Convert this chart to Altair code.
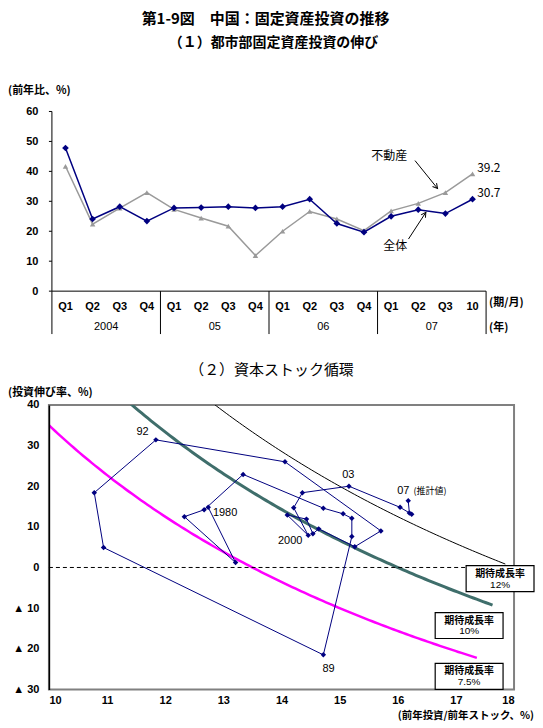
import altair as alt
import numpy as np
import pandas as pd

JP = "Noto Sans CJK JP"
AR = "Liberation Sans"
NAVY = "#000080"
GRAY = "#9a9a9a"

# ---------------- Panel (1) data ----------------
period_labels = ["Q1", "Q2", "Q3", "Q4", "Q1", "Q2", "Q3", "Q4",
                 "Q1", "Q2", "Q3", "Q4", "Q1", "Q2", "Q3", "10"]
year_labels = ["2004", "05", "06", "07"]
total_growth = [47.8, 24.1, 28.2, 23.4, 27.8, 27.9, 28.2, 27.8,
                28.2, 30.7, 22.6, 19.7, 25.0, 27.2, 25.9, 30.7]
realestate_growth = [41.7, 22.4, 27.7, 32.9, 27.3, 24.4, 21.7, 11.9,
                     20.0, 26.6, 24.1, 20.2, 26.8, 29.3, 32.9, 39.2]
p1_y_ticks = [0, 10, 20, 30, 40, 50, 60]

# ---------------- Panel (2) data ----------------
cycle_years = list(range(1980, 2008))
stock_ratio = [12.74, 13.21, 12.33, 12.67, 13.34, 14.72, 15.06, 15.21, 15.21, 14.72,
               10.94, 10.78, 11.84, 14.06, 15.71, 15.26, 14.64, 14.54, 14.43, 14.10,
               14.46, 14.21, 14.36, 15.16, 16.04, 16.24, 16.20, 16.18]
invest_growth = [14.8, 1.2, 12.5, 14.2, 22.9, 14.6, 13.2, 12.1, 7.6, -21.5,
                 4.9, 18.4, 31.4, 26.0, 9.0, 5.1, 9.5, 8.3, 11.9, 12.9,
                 7.9, 14.7, 18.4, 20.0, 14.8, 13.1, 13.4, 16.4]
growth_rates = [12, 10, 7.5]
growth_labels = ["12%", "10%", "7.5%"]
depreciation = 6.0
curve_end = [17.85, 17.63, 17.36]
p2_x_ticks = list(range(10, 19))
p2_y_ticks = list(range(-30, 41, 10))

# ---------------- Panel (1) chart ----------------
W1, H1 = 438, 180
n = len(period_labels)
D1 = 3 / ((W1 - 3) / n)
xs1 = alt.Scale(domain=[-D1, n], nice=False, zero=False)
ys1 = alt.Scale(domain=[0, 60], nice=False, zero=False)

df1 = pd.DataFrame({"pos": [i + 0.5 for i in range(n)], "period": period_labels,
                    "total": total_growth, "realestate": realestate_growth})

y_axis1 = alt.Axis(values=p1_y_ticks, domain=False, ticks=False, tickSize=0, grid=False,
                   labelPadding=11, labelFont=AR, labelFontSize=11, labelFontWeight="bold",
                   labelColor="black", title=None)


def X1(f):
    return alt.X(f, scale=xs1, axis=None)


def Y1(f):
    return alt.Y(f, scale=ys1, axis=y_axis1)


re_line = alt.Chart(df1).mark_line(color=GRAY, strokeWidth=1.5).encode(
    x=X1("pos:Q"), y=Y1("realestate:Q"))
re_pts = alt.Chart(df1).mark_point(shape="triangle-up", filled=True, color=GRAY, size=30, opacity=1).encode(
    x=X1("pos:Q"), y=Y1("realestate:Q"))
tot_line = alt.Chart(df1).mark_line(color=NAVY, strokeWidth=1.5).encode(
    x=X1("pos:Q"), y=Y1("total:Q"))
tot_pts = alt.Chart(df1).mark_point(shape="diamond", filled=True, color=NAVY, size=45, opacity=1).encode(
    x=X1("pos:Q"), y=Y1("total:Q"))

df_ax1 = pd.DataFrame({"x0": [0.0], "x1": [float(n)], "y0": [0.0], "y1": [60.0]})
xline1 = alt.Chart(df_ax1).mark_rule(color="black", strokeWidth=1).encode(
    x=X1("x0:Q"), x2="x1:Q", y=Y1("y0:Q"))
yline1 = alt.Chart(df_ax1).mark_rule(color="black", strokeWidth=1).encode(
    x=X1("x0:Q"), y=Y1("y0:Q"), y2="y1:Q")
df_tk1 = pd.DataFrame({"v": p1_y_ticks, "a": [-D1] * len(p1_y_ticks), "b": [0.0] * len(p1_y_ticks)})
ticks1 = alt.Chart(df_tk1).mark_rule(color="black", strokeWidth=1).encode(
    x=X1("a:Q"), x2="b:Q", y=Y1("v:Q"))
df_sep = pd.DataFrame({"b": [0, 4, 8, 12, 16]})
seps = alt.Chart(df_sep).mark_rule(color="black", strokeWidth=1).encode(
    x=X1("b:Q"), y=alt.value(H1), y2=alt.value(223))

cats = alt.Chart(df1).mark_text(font=AR, fontSize=11, fontWeight="bold", baseline="middle", color="black").encode(
    x=X1("pos:Q"), y=alt.value(196), text="period:N")
df_yr = pd.DataFrame({"pos": [2, 6, 10, 14], "year": year_labels})
years_t = alt.Chart(df_yr).mark_text(font=AR, fontSize=11, baseline="middle", color="black").encode(
    x=X1("pos:Q"), y=alt.value(216), text="year:N")


def ptext(txt, x, y, size=11, weight="normal", align="left", baseline="middle", font=JP):
    return alt.Chart(pd.DataFrame({"t": [txt]})).mark_text(
        font=font, fontSize=size, fontWeight=weight, align=align, baseline=baseline, color="black"
    ).encode(x=alt.value(x), y=alt.value(y), text="t:N")


# annotation (label) positions, in panel-1 data units
ann1 = pd.DataFrame({
    "x": [12.43, 12.65, 15.67, 15.67],
    "y": [45.0, 15.0, 41.0, 32.7],
    "t": ["不動産", "全体", "39.2", "30.7"],
    "al": ["center", "center", "left", "left"],
})
ann1_c = alt.Chart(ann1[ann1.al == "center"]).mark_text(font=JP, fontSize=12, align="center", baseline="middle", color="black").encode(
    x=X1("x:Q"), y=Y1("y:Q"), text="t:N")
ann1_l = alt.Chart(ann1[ann1.al == "left"]).mark_text(font=JP, fontSize=12, align="left", baseline="middle", color="black").encode(
    x=X1("x:Q"), y=Y1("y:Q"), text="t:N")

arrows = pd.DataFrame({"x0": [13.38, 13.14], "y0": [43.6, 17.4], "x1": [14.21, 13.78], "y1": [34.3, 26.3],
                       "ang": [140.8, 33.1]})
arrow_lines = alt.Chart(arrows).mark_rule(color="black", strokeWidth=1).encode(
    x=X1("x0:Q"), y=Y1("y0:Q"), x2="x1:Q", y2="y1:Q")
arrow_heads = alt.Chart(arrows).mark_point(shape="M -0.55 1 L 0 0 L 0.55 1", filled=False, color="black",
                                           strokeWidth=1, size=90, opacity=1).encode(
    x=X1("x1:Q"), y=Y1("y1:Q"), angle=alt.Angle("ang:Q", scale=None))

spacer = alt.Chart(pd.DataFrame({"a": [0]})).mark_rule(opacity=0).encode(
    x=alt.value(200), x2=alt.value(240), y=alt.value(-103))

top = alt.layer(
    re_line, re_pts, tot_line, tot_pts, xline1, yline1, ticks1, seps, cats, years_t,
    ann1_c, ann1_l, arrow_lines, arrow_heads, spacer,
    ptext("第1-9図　中国：固定資産投資の推移", 217, -100, size=15, weight="bold", align="center", baseline="top"),
    ptext("（１）都市部固定資産投資の伸び", 225, -69, size=14, weight="bold", align="center"),
    ptext("(前年比、%)", -41, -21, size=11, weight="bold"),
    ptext("(期/月)", 441, 192, size=11, weight="bold"),
    ptext("(年)", 441, 217, size=11, weight="bold"),
).properties(width=W1, height=H1)

# ---------------- Panel (2) chart ----------------
W2, H2 = 466, 285
xs2 = alt.Scale(domain=[10, 18], nice=False, zero=False)
ys2 = alt.Scale(domain=[-30, 40], nice=False, zero=False)

x_axis2 = alt.Axis(values=p2_x_ticks, grid=False, ticks=False, tickSize=0, domain=False,
                   labelPadding=5, labelFont=AR, labelFontSize=11, labelFontWeight="bold",
                   labelColor="black", title=None)
y_axis2 = alt.Axis(values=p2_y_ticks, grid=False, ticks=False, tickSize=0, domain=True,
                   domainColor="black", domainWidth=1.5, zindex=1,
                   labelExpr="datum.value < 0 ? '▲ ' + (-datum.value) : '' + datum.value",
                   labelPadding=10, labelFont=AR, labelFontSize=11, labelFontWeight="bold",
                   labelColor="black", title=None)


def X2(f):
    return alt.X(f, scale=xs2, axis=x_axis2)


def Y2(f):
    return alt.Y(f, scale=ys2, axis=y_axis2)


df2 = pd.DataFrame({"year": cycle_years, "ratio": stock_ratio, "growth": invest_growth})

frame = alt.Chart(pd.DataFrame({"a": [0]})).mark_rect(fillOpacity=0, stroke="#808080", strokeWidth=2).encode(
    x=alt.value(0), x2=alt.value(W2), y=alt.value(0), y2=alt.value(H2))

curve_colors = ["black", "#3f6e6b", "#ff00ff"]
curve_widths = [1, 3, 2.5]
curve_layers = []
for g, end, col, wd in zip(growth_rates, curve_end, curve_colors, curve_widths):
    xv = np.linspace(10.0, end, 140)
    dfc = pd.DataFrame({"x": xv, "y": ((g + depreciation) / xv - 1.0) * 100.0})
    curve_layers.append(
        alt.Chart(dfc).mark_line(color=col, strokeWidth=wd, clip=True).encode(
            x=X2("x:Q"), y=Y2("y:Q"))
    )

df_zero = pd.DataFrame({"x0": [10.0], "x1": [18.0], "y": [0.0]})
zero_line = alt.Chart(df_zero).mark_rule(color="black", strokeWidth=1, strokeDash=[4, 3]).encode(
    x=X2("x0:Q"), x2="x1:Q", y=Y2("y:Q"))

cyc_line = alt.Chart(df2).mark_line(color=NAVY, strokeWidth=1).encode(
    x=X2("ratio:Q"), y=Y2("growth:Q"), order="year:Q")
cyc_pts = alt.Chart(df2).mark_point(shape="diamond", filled=True, color=NAVY, size=30, opacity=1).encode(
    x=X2("ratio:Q"), y=Y2("growth:Q"))

ann2 = pd.DataFrame({
    "x": [11.61, 12.82, 14.15, 15.15, 15.99, 14.81],
    "y": [33.4, 13.5, 6.6, 22.8, 18.8, -24.9],
    "t": ["92", "1980", "2000", "03", "07", "89"],
    "al": ["center", "left", "center", "center", "left", "center"],
})
ann2_c = alt.Chart(ann2[ann2.al == "center"]).mark_text(font=AR, fontSize=11, align="center", baseline="middle", color="black").encode(
    x=X2("x:Q"), y=Y2("y:Q"), text="t:N")
ann2_l = alt.Chart(ann2[ann2.al == "left"]).mark_text(font=AR, fontSize=11, align="left", baseline="middle", color="black").encode(
    x=X2("x:Q"), y=Y2("y:Q"), text="t:N")
ann2_est = alt.Chart(pd.DataFrame({"x": [16.27], "y": [18.8], "t": ["(推計値)"]})).mark_text(
    font=JP, fontSize=9, align="left", baseline="middle", color="black").encode(
    x=X2("x:Q"), y=Y2("y:Q"), text="t:N")

# label boxes (pixel layout)
box_pos = [(418, 486, 161), (387, 455, 208), (387, 455, 259)]
box_layers = []
for (bx0, bx1, by0), lab in zip(box_pos, growth_labels):
    box_layers.append(
        alt.Chart(pd.DataFrame({"a": [0]})).mark_rect(fill="white", stroke="black", strokeWidth=1.2).encode(
            x=alt.value(bx0), x2=alt.value(bx1), y=alt.value(by0), y2=alt.value(by0 + 26)))
    box_layers.append(ptext("期待成長率", (bx0 + bx1) / 2, by0 + 8, size=10, weight="bold", align="center"))
    box_layers.append(ptext(lab, (bx0 + bx1) / 2, by0 + 19, size=10, align="center", font=AR))

bottom = alt.layer(
    frame, *curve_layers, zero_line, cyc_line, cyc_pts, ann2_c, ann2_l, ann2_est,
    *box_layers,
    ptext("（２）資本ストック循環", 223, -35, size=15, align="center"),
    ptext("(投資伸び率、%)", -41, -12, size=11, weight="bold"),
    ptext("(前年投資/前年ストック、%)", 486, 312, size=10.5, weight="bold", align="right"),
).properties(width=W2, height=H2)

chart = alt.vconcat(top, bottom, spacing=114, bounds="flush").properties(padding=0).configure_view(stroke=None)

chart.save("out.html", embed_options={"renderer": "svg", "actions": False})
